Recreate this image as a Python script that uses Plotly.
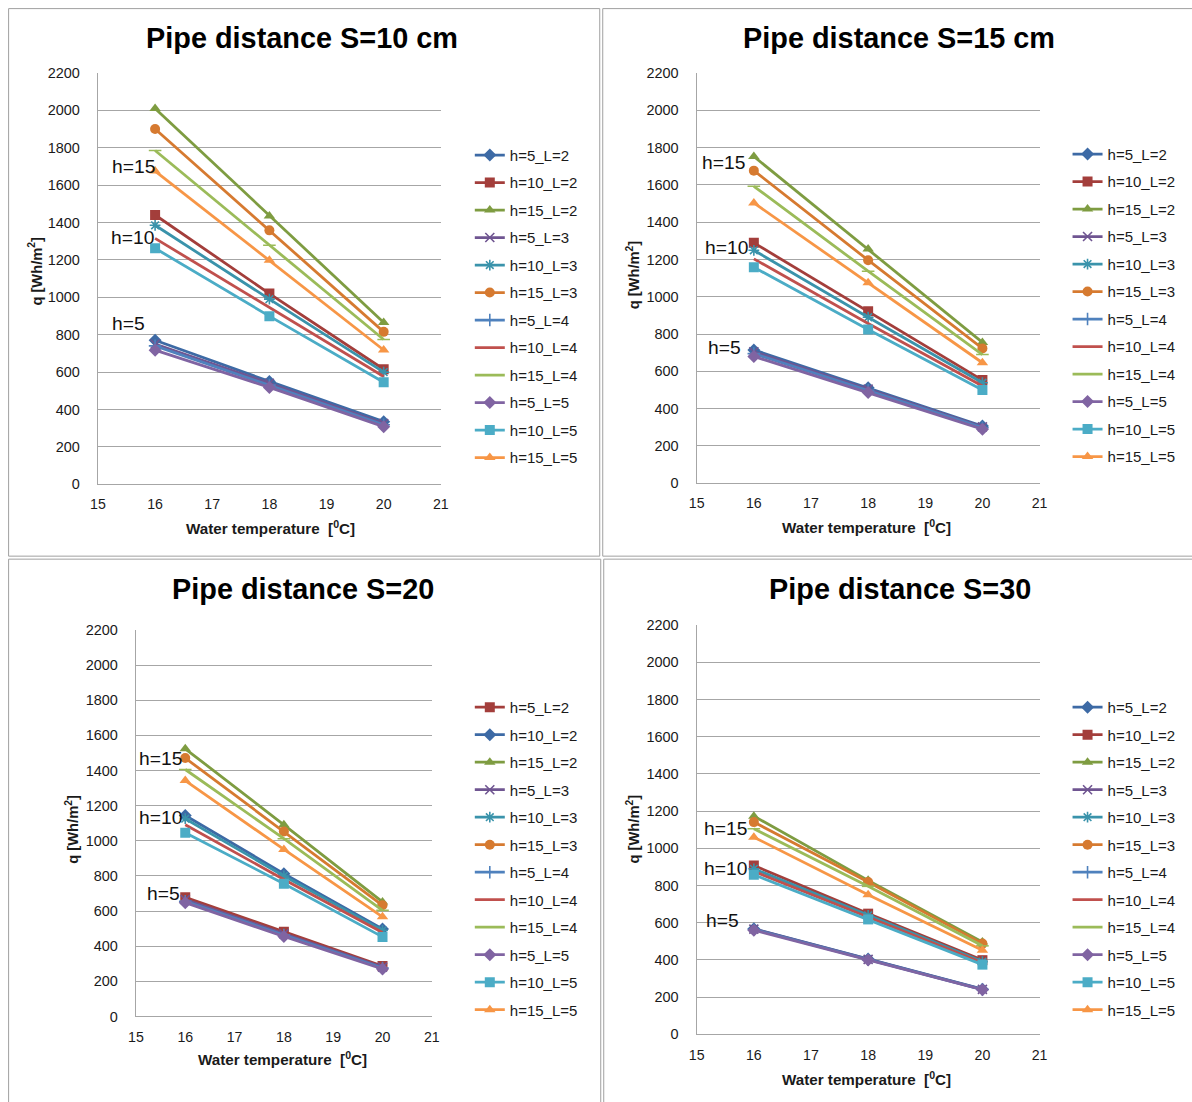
import plotly.graph_objects as go

# ---------------- data ----------------
temps = [16, 18, 20]
x_tick_vals = [15, 16, 17, 18, 19, 20, 21]
y_tick_vals = [0, 200, 400, 600, 800, 1000, 1200, 1400, 1600, 1800, 2000, 2200]

series_names = ["h=5_L=2", "h=10_L=2", "h=15_L=2", "h=5_L=3", "h=10_L=3", "h=15_L=3",
                "h=5_L=4", "h=10_L=4", "h=15_L=4", "h=5_L=5", "h=10_L=5", "h=15_L=5"]

# Pipe distance S=10 cm
s10_h5_L2 = [770, 550, 335]
s10_h10_L2 = [1440, 1020, 615]
s10_h15_L2 = [2010, 1435, 865]
s10_h5_L3 = [750, 540, 325]
s10_h10_L3 = [1385, 990, 600]
s10_h15_L3 = [1900, 1358, 815]
s10_h5_L4 = [740, 530, 318]
s10_h10_L4 = [1315, 945, 576]
s10_h15_L4 = [1785, 1278, 774]
s10_h5_L5 = [717, 518, 308]
s10_h10_L5 = [1262, 899, 546]
s10_h15_L5 = [1675, 1198, 718]

# Pipe distance S=15 cm
s15_h5_L2 = [715, 512, 307]
s15_h10_L2 = [1289, 922, 553]
s15_h15_L2 = [1752, 1256, 755]
s15_h5_L3 = [705, 505, 302]
s15_h10_L3 = [1249, 890, 539]
s15_h15_L3 = [1676, 1196, 723]
s15_h5_L4 = [695, 498, 298]
s15_h10_L4 = [1203, 857, 521]
s15_h15_L4 = [1592, 1137, 690]
s15_h5_L5 = [680, 487, 290]
s15_h10_L5 = [1158, 824, 500]
s15_h15_L5 = [1503, 1075, 646]

# Pipe distance S=20
s20_h5_L2 = [678, 482, 287]
s20_h10_L2 = [1144, 813, 498]
s20_h15_L2 = [1524, 1091, 652]
s20_h5_L3 = [665, 470, 281]
s20_h10_L3 = [1126, 800, 490]
s20_h15_L3 = [1471, 1053, 633]
s20_h5_L4 = [655, 463, 276]
s20_h10_L4 = [1091, 780, 478]
s20_h15_L4 = [1406, 1012, 604]
s20_h5_L5 = [648, 455, 270]
s20_h10_L5 = [1046, 756, 453]
s20_h15_L5 = [1343, 951, 567]

# Pipe distance S=30
s30_h5_L2 = [568, 405, 243]
s30_h10_L2 = [908, 649, 399]
s30_h15_L2 = [1173, 828, 497]
s30_h5_L3 = [566, 403, 242]
s30_h10_L3 = [890, 640, 391]
s30_h15_L3 = [1141, 819, 488]
s30_h5_L4 = [564, 402, 241]
s30_h10_L4 = [876, 631, 385]
s30_h15_L4 = [1105, 796, 476]
s30_h5_L5 = [560, 400, 240]
s30_h10_L5 = [858, 618, 375]
s30_h15_L5 = [1060, 751, 452]

panel_titles = ["Pipe distance S=10 cm", "Pipe distance S=15 cm",
                "Pipe distance S=20", "Pipe distance S=30"]
x_title = "Water temperature  [<sup>0</sup>C]"
y_title = "q [Wh/m<sup>2</sup>]"
h_labels = ["h=15", "h=10", "h=5"]
h_label_pos = [  # (x, y) in data units for the three group labels per panel
    [(15.63, 1700), (15.6, 1320), (15.54, 860)],
    [(15.47, 1718), (15.52, 1263), (15.49, 728)],
    [(15.49, 1467), (15.49, 1131), (15.55, 699)],
    [(15.5, 1105), (15.5, 890), (15.45, 612)],
]

panel_data = [
    [s10_h5_L2, s10_h10_L2, s10_h15_L2, s10_h5_L3, s10_h10_L3, s10_h15_L3,
     s10_h5_L4, s10_h10_L4, s10_h15_L4, s10_h5_L5, s10_h10_L5, s10_h15_L5],
    [s15_h5_L2, s15_h10_L2, s15_h15_L2, s15_h5_L3, s15_h10_L3, s15_h15_L3,
     s15_h5_L4, s15_h10_L4, s15_h15_L4, s15_h5_L5, s15_h10_L5, s15_h15_L5],
    [s20_h5_L2, s20_h10_L2, s20_h15_L2, s20_h5_L3, s20_h10_L3, s20_h15_L3,
     s20_h5_L4, s20_h10_L4, s20_h15_L4, s20_h5_L5, s20_h10_L5, s20_h15_L5],
    [s30_h5_L2, s30_h10_L2, s30_h15_L2, s30_h5_L3, s30_h10_L3, s30_h15_L3,
     s30_h5_L4, s30_h10_L4, s30_h15_L4, s30_h5_L5, s30_h10_L5, s30_h15_L5],
]

# ---------------- styles ----------------
W, H = 1192, 1102
# the photographed page shows the figure offset by 8px and slightly scaled
OFF, SC = 8, 0.987
FONT = "Liberation Sans, Arial, sans-serif"
GRID = "#A6A6A6"

styles = [
    ("#3D6AA5", "diamond"),
    ("#A33E3B", "square"),
    ("#7E9C41", "triangle-up"),
    ("#6F5591", "x-thin-open"),
    ("#3A93AB", "asterisk-open"),
    ("#D67A30", "circle"),
    ("#4F81BD", "cross-thin-open"),
    ("#C0504D", None),
    ("#9BBB59", "line-ew-open"),
    ("#8064A2", "diamond"),
    ("#4BACC6", "square"),
    ("#F79646", "triangle-up"),
]
# panel S=20 has the first two series styles swapped
styles_p3 = [styles[1], styles[0]] + styles[2:]

# pixel layout (photo coords) of each panel: plot area, frame, title, legend, axis titles
panels = [
    dict(px0=98, px1=441, py0=73, py1=485, frame=(8.6, 8.6, 600, 557), title=(302, 38),
         leg=(470, 139), xt=(271, 528), yt=(35, 271)),
    dict(px0=697, px1=1040, py0=73, py1=484, frame=(603, 8.6, 1200, 557), title=(899, 38),
         leg=(1068, 138), xt=(867, 527), yt=(633, 275)),
    dict(px0=136, px1=432, py0=631, py1=1018, frame=(8.6, 560, 601, 1110), title=(303, 590),
         leg=(470, 692), xt=(283, 1060), yt=(72, 830)),
    dict(px0=697, px1=1040, py0=626, py1=1036, frame=(604, 560, 1200, 1110), title=(900, 590),
         leg=(1068, 692), xt=(867, 1080), yt=(633, 830)),
]


def fx(p):
    return (p - OFF) / SC / W


def fy(p):
    return 1 - (p - OFF) / SC / H


def fs(s):
    return s / SC


fig = go.Figure()
layout = dict(
    width=W, height=H,
    margin=dict(l=0, r=0, t=0, b=0),
    paper_bgcolor="white", plot_bgcolor="white",
    font=dict(family=FONT, color="#1a1a1a"),
    showlegend=True,
)
shapes = []
annotations = []

for i, pan in enumerate(panels):
    k = "" if i == 0 else str(i + 1)
    xa, ya = "x" + k, "y" + k
    leg = "legend" + k
    sty = styles_p3 if i == 2 else styles
    for j, name in enumerate(series_names):
        color, symbol = sty[j]
        vals = panel_data[i][j]
        if symbol is None:
            mode = "lines"
            marker = dict()
        else:
            mode = "lines+markers"
            open_sym = symbol.endswith("open")
            marker = dict(symbol=symbol, size=9 if open_sym else 10, color=color,
                          line=dict(color=color, width=1.6 if open_sym else 0))
        fig.add_trace(go.Scatter(
            x=temps, y=vals, name=name, mode=mode,
            line=dict(color=color, width=2.8), marker=marker,
            xaxis=xa, yaxis=ya, legend=leg, legendgroup=f"p{i}_{j}",
        ))
    layout["xaxis" + k] = dict(
        domain=[fx(pan["px0"]), fx(pan["px1"])], anchor=ya,
        range=[15, 21], tickvals=x_tick_vals, showgrid=False, zeroline=False,
        showline=True, linecolor=GRID, linewidth=1.3, ticks="",
        ticklabelstandoff=7, tickfont=dict(size=fs(14), family=FONT, color="#1a1a1a"),
    )
    layout["yaxis" + k] = dict(
        domain=[fy(pan["py1"]), fy(pan["py0"])], anchor=xa,
        range=[0, 2200], tickvals=y_tick_vals, showgrid=True, gridcolor=GRID,
        gridwidth=1.3, zeroline=False, showline=True, linecolor=GRID, linewidth=1.3,
        ticks="", ticklabelstandoff=14,
        tickfont=dict(size=fs(14.3), family=FONT, color="#1a1a1a"),
    )
    layout[leg] = dict(
        x=fx(pan["leg"][0]), y=fy(pan["leg"][1]), xanchor="left", yanchor="top",
        bgcolor="rgba(0,0,0,0)", borderwidth=0, tracegroupgap=5,
        traceorder="grouped", font=dict(size=15, family=FONT, color="#1a1a1a"),
        itemwidth=30,
    )
    f = pan["frame"]
    shapes.append(dict(type="rect", xref="paper", yref="paper",
                       x0=fx(f[0]), x1=fx(f[2]), y0=fy(f[3]), y1=fy(f[1]),
                       line=dict(color="#A0A0A0", width=1), fillcolor="rgba(0,0,0,0)"))
    annotations.append(dict(text=f"<b>{panel_titles[i]}</b>", xref="paper", yref="paper",
                            x=fx(pan["title"][0]), y=fy(pan["title"][1]),
                            xanchor="center", yanchor="middle", showarrow=False,
                            font=dict(size=fs(28.5), family=FONT, color="black")))
    annotations.append(dict(text=f"<b>{x_title}</b>", xref="paper", yref="paper",
                            x=fx(pan["xt"][0]), y=fy(pan["xt"][1]),
                            xanchor="center", yanchor="middle", showarrow=False,
                            font=dict(size=fs(15), family=FONT, color="#1a1a1a")))
    annotations.append(dict(text=f"<b>{y_title}</b>", xref="paper", yref="paper",
                            x=fx(pan["yt"][0]), y=fy(pan["yt"][1]), textangle=-90,
                            xanchor="center", yanchor="middle", showarrow=False,
                            font=dict(size=fs(14.5), family=FONT, color="#1a1a1a")))
    for lab, (lx, ly) in zip(h_labels, h_label_pos[i]):
        annotations.append(dict(text=lab, xref=xa, yref=ya, x=lx, y=ly,
                                xanchor="center", yanchor="middle", showarrow=False,
                                font=dict(size=fs(19), family=FONT, color="#111111")))

layout["shapes"] = shapes
layout["annotations"] = annotations
fig.update_layout(**layout)
fig.write_html("out.html")
